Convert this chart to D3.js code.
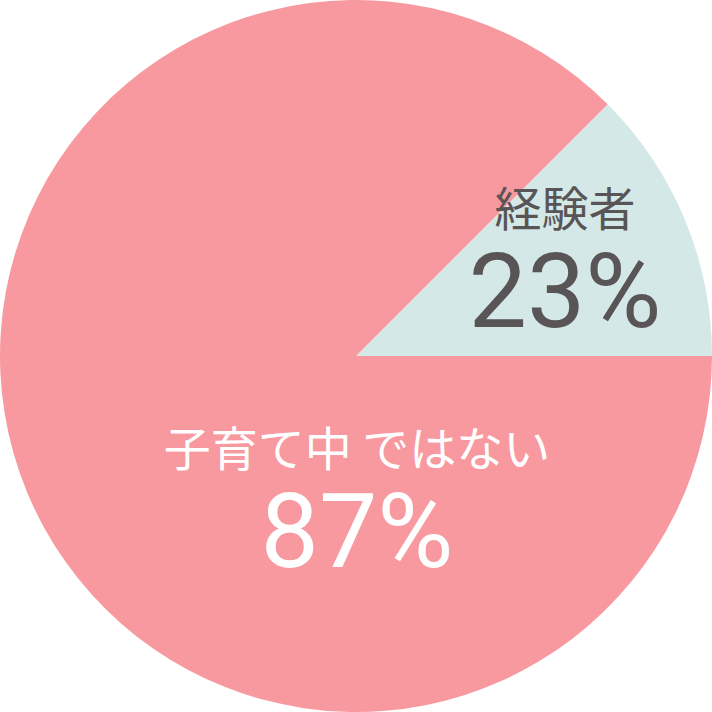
<!DOCTYPE html>
<html><head><meta charset="utf-8">
<script src="https://cdn.jsdelivr.net/npm/d3@7"></script>
<style>html,body{margin:0;padding:0;background:#fff;}</style>
</head><body>
<svg id="c" width="712" height="712"></svg>
<script>
const categories = ["経験者", "子育て中 ではない"];
const sliceShares = [12.5, 87.5];
const valueLabels = ["23%", "87%"];
const colors = ["#d4e8e7", "#f7999f"];

const W = 712, H = 712, cx = 356, cy = 356, R = 356;
const svg = d3.select("#c");
const g = svg.append("g").attr("transform", `translate(${cx},${cy})`);
const pie = d3.pie().sort(null).value(d => d).startAngle(Math.PI/4).endAngle(Math.PI/4 + 2*Math.PI);
const arcs = pie(sliceShares);
const arc = d3.arc().innerRadius(0).outerRadius(R);
g.selectAll("path").data(arcs).enter().append("path")
  .attr("d", arc).attr("fill", (d,i) => colors[i]);

const cjk = "'Noto Sans CJK JP',sans-serif";
const num = "Roboto,'Noto Sans',sans-serif";
const labels = [
  {x: 565, y1: 226, y2: 327, fill: "#595556"},
  {x: 357, y1: 466, y2: 567, fill: "#ffffff"}
];
labels.forEach((L, i) => {
  svg.append("text").attr("x", L.x).attr("y", L.y1).attr("text-anchor", "middle")
    .attr("font-family", cjk).attr("font-size", 47).attr("font-weight", 400)
    .attr("fill", L.fill).text(categories[i]);
  svg.append("text").attr("x", L.x).attr("y", L.y2).attr("text-anchor", "middle")
    .attr("font-family", num).attr("font-size", 104).attr("font-weight", 400)
    .attr("fill", L.fill).text(valueLabels[i]);
});
</script>
</body></html>
